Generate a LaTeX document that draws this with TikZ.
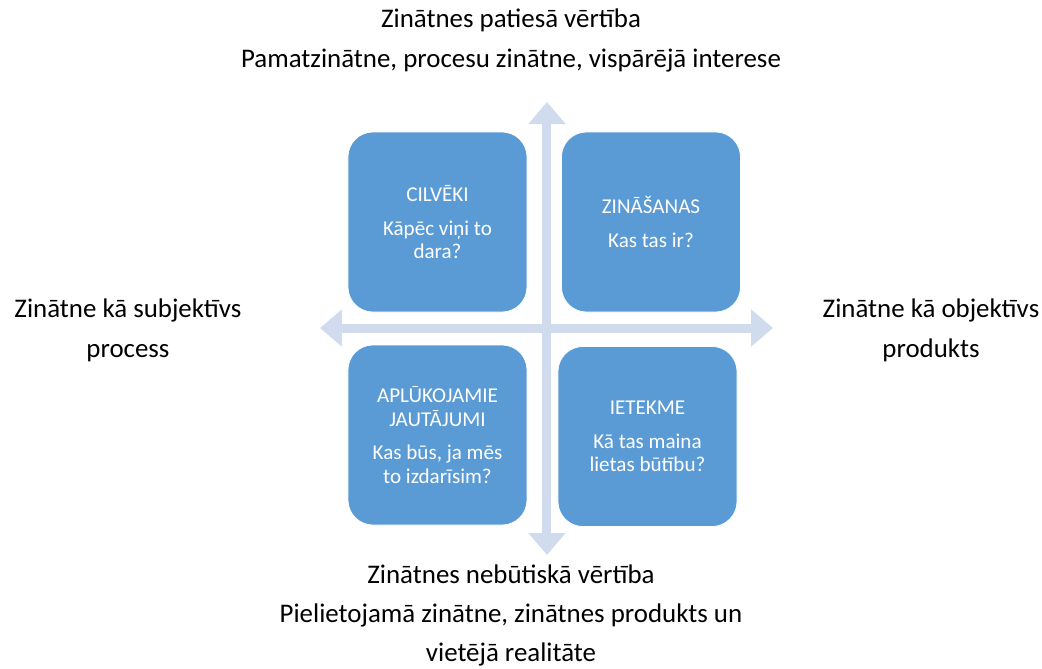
\documentclass[tikz,border=0pt]{standalone}
\usepackage{fontspec}
\setmainfont{Carlito}
\usetikzlibrary{arrows.meta}
\definecolor{boxblue}{HTML}{5B9BD5}
\definecolor{axisblue}{HTML}{D0DBEE}
\tikzset{
  quad/.style={draw=white, fill=boxblue, rounded corners=0.5cm, minimum width=3.58cm, minimum height=3.6cm,
    text=white, align=center, font=\fontsize{12}{13.2}\selectfont},
  axis/.style={draw=axisblue, line width=0.18cm,
    {Triangle[width=0.72cm,length=0.44cm]}-{Triangle[width=0.72cm,length=0.44cm]}},
  axislabel/.style={align=center, font=\fontsize{15.3}{22.8}\selectfont}
}

\begin{document}
\begin{tikzpicture}
    		\useasboundingbox (-10.94,-6.8) rectangle (9.9,6.56);
    		% axes
    		\coordinate (top) at (0,4.52);
    		\coordinate (bottom) at (0,-4.54);
    		\coordinate (left) at (-4.54,0);
    		\coordinate (right) at (4.52,0);
    		\draw[axis] (bottom) -- (top);
    		\draw[axis] (left) -- (right);
    		% quadrants
    		\node[quad] (people) at (-2.19,2.12) {CILVĒKI\\[6pt]Kāpēc viņi to\\dara?};
    		\node[quad] (knowledge) at (2.08,2.12) {ZINĀŠANAS\\[6pt]Kas tas ir?};
    		\node[quad] (questions) at (-2.19,-2.14) {APLŪKOJAMIE\\JAUTĀJUMI\\[6pt]Kas būs, ja mēs\\to izdarīsim?};
    		\node[quad] (impact) at (2.01,-2.17) {IETEKME\\[6pt]Kā tas maina\\lietas būtību?};
    		% labels
    		\node[axislabel] (truevalue) at (-0.72,5.75) {Zinātnes patiesā vērtība\\Pamatzinātne, procesu zinātne, vispārējā interese};
    		\node[axislabel, font=\fontsize{15.3}{22.2}\selectfont] (falsevalue) at (-0.72,-5.74) {Zinātnes nebūtiskā vērtība\\Pielietojamā zinātne, zinātnes produkts un\\vietējā realitāte};
    		\node[axislabel] (subjective) at (-8.38,-0.04) {Zinātne kā subjektīvs\\process};
    		\node[axislabel] (objective) at (7.68,-0.04) {Zinātne kā objektīvs\\produkts};
\end{tikzpicture}
\end{document}
